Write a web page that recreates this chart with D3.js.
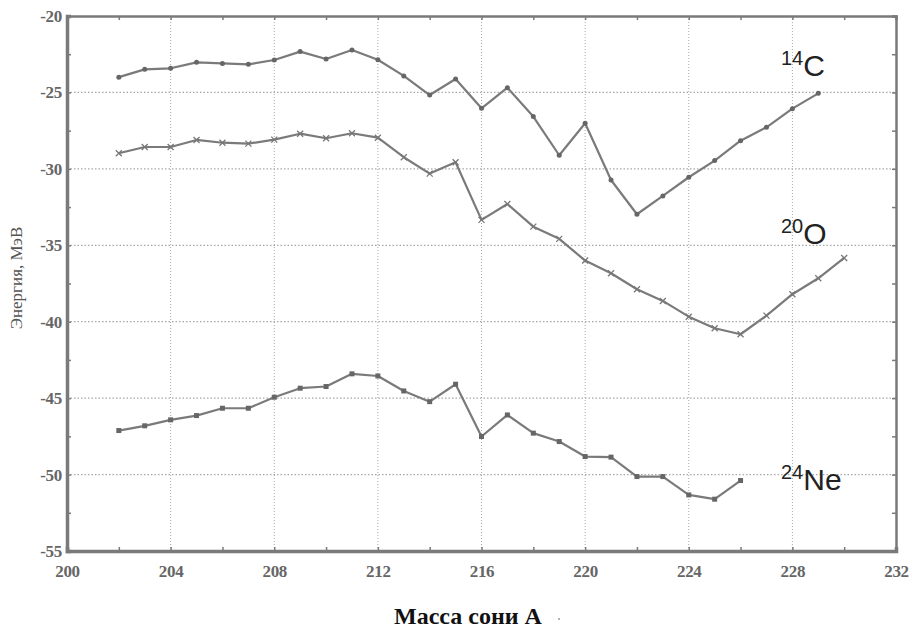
<!DOCTYPE html>
<html><head><meta charset="utf-8">
<script src="https://cdn.jsdelivr.net/npm/d3@7"></script>
<style>body{margin:0;background:#fff;}svg{display:block;}</style>
</head><body>
<script>
const massC = [202,203,204,205,206,207,208,209,210,211,212,213,214,215,216,217,218,219,220,221,222,223,224,225,226,227,228,229];
const energyC = [-24.0,-23.49,-23.42,-23.03,-23.1,-23.16,-22.88,-22.33,-22.81,-22.22,-22.86,-23.92,-25.17,-24.12,-26.04,-24.69,-26.58,-29.11,-27.02,-30.73,-32.97,-31.77,-30.55,-29.46,-28.16,-27.28,-26.06,-25.06];
const massO = [202,203,204,205,206,207,208,209,210,211,212,213,214,215,216,217,218,219,220,221,222,223,224,225,226,227,228,229,230];
const energyO = [-28.98,-28.57,-28.57,-28.11,-28.29,-28.35,-28.09,-27.7,-28.0,-27.67,-27.96,-29.24,-30.31,-29.57,-33.34,-32.3,-33.78,-34.58,-36.0,-36.83,-37.88,-38.64,-39.67,-40.43,-40.82,-39.6,-38.2,-37.16,-35.83];
const massNe = [202,203,204,205,206,207,208,209,210,211,212,213,214,215,216,217,218,219,220,221,222,223,224,225,226];
const energyNe = [-47.12,-46.81,-46.42,-46.14,-45.66,-45.66,-44.94,-44.35,-44.24,-43.41,-43.55,-44.53,-45.23,-44.09,-47.51,-46.1,-47.29,-47.84,-48.82,-48.86,-50.13,-50.13,-51.33,-51.61,-50.39];
const xTicks = [200,204,208,212,216,220,224,228,232];
const yTicks = [-20,-25,-30,-35,-40,-45,-50,-55];
const seriesLabels = [{mass:"14",el:"C"},{mass:"20",el:"O"},{mass:"24",el:"Ne"}];

const W=912,H=628;
const L=67,R=896,T=16,B=551;
const svg=d3.select("body").append("svg").attr("width",W).attr("height",H);
const x=d3.scaleLinear().domain([200,232]).range([L,R]);
const y=d3.scaleLinear().domain([-55,-20]).range([B,T]);
const gray="#7a7a7a";

// grid
const grid=svg.append("g");
grid.selectAll("line.gx").data(xTicks.slice(1,-1)).join("line")
  .attr("x1",d=>x(d)).attr("x2",d=>x(d)).attr("y1",T).attr("y2",B)
  .attr("stroke","#a8a8a8").attr("stroke-width",1).attr("stroke-dasharray","1,2");
grid.selectAll("line.gy").data(yTicks.slice(1,-1)).join("line")
  .attr("y1",d=>y(d)).attr("y2",d=>y(d)).attr("x1",L).attr("x2",R)
  .attr("stroke","#a8a8a8").attr("stroke-width",1.3).attr("stroke-dasharray","1.5,2");

// axes with inside ticks
const fontSerif="'Liberation Serif','DejaVu Serif',serif";
const xAxis=d3.axisBottom(x).tickValues(d3.range(200,233,2)).tickSize(-4)
  .tickFormat(d=>xTicks.includes(d)?d:"").tickPadding(14);
const gx=svg.append("g").attr("transform",`translate(0,${B})`).call(xAxis);
const xTop=d3.axisTop(x).tickValues(d3.range(200,233,2)).tickSize(-4).tickFormat("");
const gxt=svg.append("g").attr("transform",`translate(0,${T})`).call(xTop);
const yAxis=d3.axisLeft(y).tickValues(d3.range(-55,-19.9,2.5)).tickSize(-4)
  .tickFormat(d=>yTicks.includes(d)?d:"").tickPadding(5);
const gy=svg.append("g").attr("transform",`translate(${L},0)`).call(yAxis);
const yRight=d3.axisRight(y).tickValues(d3.range(-55,-19.9,2.5)).tickSize(-4).tickFormat("");
const gyr=svg.append("g").attr("transform",`translate(${R},0)`).call(yRight);
[gx,gxt,gy,gyr].forEach(g=>{
  g.select(".domain").attr("stroke",gray).attr("stroke-width",2.5);
  g.selectAll(".tick line").attr("stroke",gray).attr("stroke-width",1.5);
  g.selectAll(".tick text").attr("fill","#666").attr("font-family",fontSerif)
    .attr("font-size",17).attr("font-weight","bold").attr("letter-spacing","-0.3");
});
gy.select(".domain").attr("stroke-width",3.5);
gx.select(".domain").attr("stroke-width",3.5);

// lines
const line=d3.line().x(d=>x(d[0])).y(d=>y(d[1]));
const series=[
  {m:massC,e:energyC,mk:"dot"},
  {m:massO,e:energyO,mk:"x"},
  {m:massNe,e:energyNe,mk:"sq"}
];
series.forEach(s=>{
  const pts=s.m.map((m,i)=>[m,s.e[i]]);
  svg.append("path").datum(pts).attr("d",line).attr("fill","none")
    .attr("stroke",gray).attr("stroke-width",2.2).attr("stroke-linejoin","round");
  const g=svg.append("g");
  pts.forEach(p=>{
    const cx=x(p[0]),cy=y(p[1]);
    if(s.mk==="dot"){
      g.append("circle").attr("cx",cx).attr("cy",cy).attr("r",2.5).attr("fill","#666");
    }else if(s.mk==="x"){
      g.append("path").attr("d",`M${cx-3},${cy-3}L${cx+3},${cy+3}M${cx-3},${cy+3}L${cx+3},${cy-3}`)
        .attr("stroke","#777").attr("stroke-width",1.3);
    }else{
      g.append("rect").attr("x",cx-2.5).attr("y",cy-2.5).attr("width",5).attr("height",5).attr("fill","#666");
    }
  });
});

// series labels
const labPos=[{x:781,y:76},{x:781,y:244},{x:781,y:490}];
seriesLabels.forEach((l,i)=>{
  const t=svg.append("text").attr("x",labPos[i].x).attr("y",labPos[i].y)
    .attr("font-family","'Liberation Sans',Arial,sans-serif").attr("fill","#222").attr("font-size",30);
  t.append("tspan").text(l.mass).attr("font-size",20).attr("dy",-11);
  t.append("tspan").text(l.el).attr("dy",11);
});

// axis titles
svg.append("text").attr("transform","translate(22,278) rotate(-90)").attr("text-anchor","middle")
  .attr("font-family",fontSerif).attr("font-size",17).attr("fill","#555").text("Энергия, МэВ");
svg.append("text").attr("x",468).attr("y",624).attr("text-anchor","middle")
  .attr("font-family",fontSerif).attr("font-size",24).attr("font-weight","bold").attr("fill","#111").text("Масса сони А");
svg.append("circle").attr("cx",559).attr("cy",619).attr("r",1).attr("fill","#999");
</script>
</body></html>
